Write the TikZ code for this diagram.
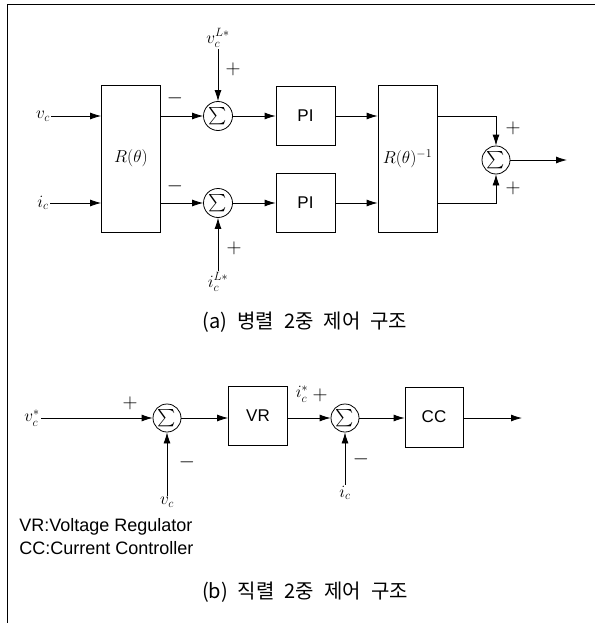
\documentclass[tikz,border=0pt]{standalone}
\usepackage{amsmath}
\usepackage{fontspec}
\setsansfont{Liberation Sans}
\newfontfamily\kor{Noto Sans CJK KR}
\usepackage{tikz}
\usetikzlibrary{positioning,arrows.meta,calc}

\begin{document}
\begin{tikzpicture}[x=1pt,y=-1pt,>={Latex[length=11pt,width=7pt]},line width=0.8pt,
  blk/.style={draw,minimum width=59pt,minimum height=59pt,inner sep=0pt,font=\sffamily\fontsize{17}{17}\selectfont},
  tall/.style={blk,minimum height=147pt,font=\LARGE},
  sumc/.style={draw,circle,minimum size=29pt,inner sep=0pt,font=\LARGE},
  lbl/.style={inner sep=1pt,font=\LARGE},
  sgn/.style={inner sep=0pt,font=\huge},
  captxt/.style={font=\kor\fontsize{20}{20}\selectfont},
  legtxt/.style={anchor=west,inner sep=0pt,font=\sffamily\fontsize{18}{18}\selectfont}]
  \useasboundingbox (0,0) rectangle (595,623);
  \draw[line width=1pt] (7,623) -- (7,5) -- (595,5);

  % (a) parallel structure
  \node[tall] (rot) at (131,158.5) {$R(\theta)$};
  \node[tall] (rinv) at (407.5,158.5) {$R(\theta)^{-1}$};
  \node[sumc] (s1) at (218,116) {$\sum$};
  \node[sumc] (s2) at (218,203) {$\sum$};
  \node[blk] (pi1) at (305.5,116) {PI};
  \node[blk] (pi2) at (305.5,203) {PI};
  \node[sumc,minimum size=28pt] (s3) at (496,160) {$\sum$};
  \coordinate (outa) at (567,160);
  \node[lbl] (vc) at (43,116) {$v_c$};
  \node[lbl] (ic) at (43,203) {$i_c$};
  \node[lbl] (vcref) at (218,38) {$v_c^{L*}$};
  \node[lbl] (icref) at (218,282) {$i_c^{L*}$};
  \node[sgn] (m1) at (175,98) {$-$};
  \node[sgn] (m2) at (175,186) {$-$};
  \node[sgn] (p1) at (233,69) {$+$};
  \node[sgn] (p2) at (234,248) {$+$};
  \node[sgn] (p3) at (513,128) {$+$};
  \node[sgn] (p4) at (513,188) {$+$};

  \draw[->] (vc) -- (vc -| rot.west);
  \draw[->] (ic) -- (ic -| rot.west);
  \draw[->] (rot.east |- s1) -- (s1);
  \draw[->] (rot.east |- s2) -- (s2);
  \draw[->] (vcref) -- (s1);
  \draw[->] (icref) -- (s2);
  \draw[->] (s1) -- (pi1);
  \draw[->] (s2) -- (pi2);
  \draw[->] (pi1) -- (pi1 -| rinv.west);
  \draw[->] (pi2) -- (pi2 -| rinv.west);
  \draw[->] (rinv.east |- pi1) -| (s3);
  \draw[->] (rinv.east |- pi2) -| (s3);
  \draw[->] (s3) -- (outa);
  \node[captxt] (capa) at (305,322) {(a)\hspace{0.5em}병렬\hspace{0.5em}2중\hspace{0.5em}제어\hspace{0.5em}구조};

  % (b) cascade structure
  \node[sumc,minimum size=28pt] (s4) at (167,418) {$\sum$};
  \node[blk] (vr) at (258,416) {VR};
  \node[sumc,minimum size=28pt] (s5) at (345,418) {$\sum$};
  \node[blk,minimum width=58pt,minimum height=60pt] (cc) at (434,417) {CC};
  \coordinate (outb) at (522,418);
  \node[lbl] (vcs) at (32,418) {$v_c^*$};
  \node[lbl] (vcb) at (167,502) {$v_c$};
  \node[lbl] (ics) at (302,394) {$i_c^*$};
  \node[lbl] (icb) at (345,493) {$i_c$};
  \node[sgn] (p5) at (130,403) {$+$};
  \node[sgn] (p6) at (320,395) {$+$};
  \node[sgn] (m3) at (187,462) {$-$};
  \node[sgn] (m4) at (361,459) {$-$};

  \draw[->] (vcs) -- (s4);
  \draw[->] (vcb) -- (s4);
  \draw[->] (s4) -- (s4 -| vr.west);
  \draw[->] (s4 -| vr.east) -- (s5);
  \draw[->] (icb) -- (s5);
  \draw[->] (s5) -- (s5 -| cc.west);
  \draw[->] (s5 -| cc.east) -- (outb);

  \node[legtxt] (leg1) at (19,527) {VR:Voltage Regulator};
  \node[legtxt] (leg2) at (19,548) {CC:Current Controller};
  \node[captxt] (capb) at (305,592) {(b)\hspace{0.5em}직렬\hspace{0.5em}2중\hspace{0.5em}제어\hspace{0.5em}구조};
\end{tikzpicture}
\end{document}
